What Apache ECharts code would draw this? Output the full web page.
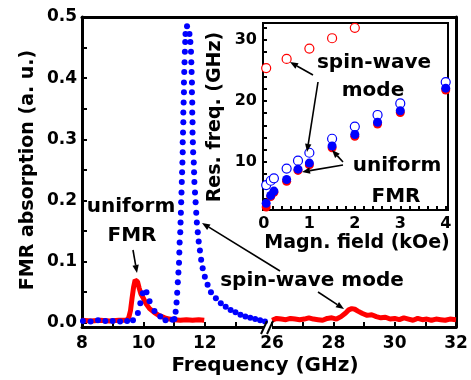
<!DOCTYPE html>
<html>
<head>
<meta charset="utf-8">
<script src="https://cdn.jsdelivr.net/npm/echarts@6/dist/echarts.min.js"></script>
<style>
html, body { margin: 0; padding: 0; background: #fff; }
#chart { width: 471px; height: 380px; }
</style>
</head>
<body>
<div id="chart"></div>
<script>
// main panel: blue dots (spin-wave spectrum)
const blueFreq = [8.03, 8.28, 8.52, 8.76, 9.0, 9.24, 9.47, 9.66,
  9.82, 9.9, 9.98, 10.1, 10.2, 10.36, 10.55, 10.72, 10.95,
  11.01, 11.05, 11.08, 11.1, 11.12, 11.14, 11.16, 11.17, 11.18, 11.2, 11.21, 11.22, 11.23, 11.24, 11.25, 11.26, 11.27,
  11.28, 11.28, 11.29, 11.3, 11.3, 11.31, 11.32, 11.32, 11.33, 11.34, 11.35, 11.36, 11.37, 11.42,
  11.5, 11.53, 11.55, 11.56, 11.57, 11.58, 11.58, 11.59, 11.59, 11.6, 11.6, 11.61, 11.62, 11.64, 11.65, 11.66, 11.68,
  11.7, 11.72, 11.74, 11.77, 11.8, 11.84, 11.88, 11.93, 12.0, 12.09, 12.2, 12.36, 12.52, 12.68, 12.84, 13.0, 13.16,
  13.32, 13.48, 13.64, 13.8, 13.96];
const blueAbs = [0.003, 0.002, 0.004, 0.003, 0.003, 0.002, 0.003, 0.004,
  0.016, 0.032, 0.048, 0.05, 0.035, 0.019, 0.01, 0.004, 0.005,
  0.006, 0.018, 0.033, 0.049, 0.066, 0.082, 0.098, 0.115, 0.131, 0.148, 0.164, 0.18, 0.197, 0.213, 0.23, 0.246, 0.262,
  0.279, 0.295, 0.311, 0.328, 0.344, 0.36, 0.377, 0.393, 0.41, 0.426, 0.443, 0.459, 0.472, 0.485,
  0.472, 0.459, 0.443, 0.426, 0.41, 0.393, 0.377, 0.36, 0.344, 0.328, 0.311, 0.295, 0.279, 0.262, 0.246, 0.23, 0.213,
  0.197, 0.18, 0.164, 0.148, 0.133, 0.118, 0.103, 0.089, 0.075, 0.062, 0.05, 0.04, 0.032, 0.026, 0.021, 0.017, 0.013,
  0.01, 0.008, 0.006, 0.004, 0.002];

// main panel: red line (uniform FMR), low band
const redFreqLow = [8.0, 8.3, 8.6, 8.9, 9.2, 9.45, 9.52, 9.58, 9.63, 9.68, 9.73, 9.77, 9.81, 9.86, 9.92,
  10.0, 10.1, 10.2, 10.35, 10.5, 10.7, 10.85, 11.0, 11.2, 11.4, 11.6, 11.8, 11.98];
const redAbsLow = [0.004, 0.003, 0.004, 0.003, 0.004, 0.004, 0.008, 0.02, 0.04, 0.058, 0.07, 0.072, 0.067, 0.057, 0.047,
  0.04, 0.03, 0.023, 0.017, 0.012, 0.008, 0.006, 0.005, 0.004, 0.005, 0.004, 0.005, 0.004];

// main panel: red line, high band (spin-wave mode)
const redFreqHigh = [26.0, 26.15, 26.3, 26.45, 26.6, 26.75, 26.9, 27.05, 27.2, 27.35, 27.5, 27.65, 27.8, 27.95,
  28.1, 28.25, 28.4, 28.5, 28.6, 28.7, 28.8, 28.95, 29.1, 29.25, 29.4, 29.55, 29.7, 29.85, 30.0, 30.15, 30.3,
  30.45, 30.6, 30.75, 30.9, 31.05, 31.2, 31.35, 31.5, 31.65, 31.8, 32.0];
const redAbsHigh = [0.004, 0.007, 0.006, 0.005, 0.007, 0.006, 0.005, 0.006, 0.008, 0.006, 0.005, 0.004, 0.007, 0.008,
  0.006, 0.01, 0.016, 0.021, 0.023, 0.022, 0.019, 0.015, 0.012, 0.013, 0.01, 0.008, 0.009, 0.006, 0.007, 0.005, 0.008,
  0.006, 0.004, 0.007, 0.005, 0.006, 0.004, 0.006, 0.005, 0.004, 0.006, 0.005];

const yLabels = [0, 0.1, 0.2, 0.3, 0.4, 0.5];
const yTickVals = [0, 0.05, 0.1, 0.15, 0.2, 0.25, 0.3, 0.35, 0.4, 0.45, 0.5];
const xLabelsLow = [8, 10, 12];
const xTicksLow = [8, 9, 10, 11, 12, 13];
const xLabelsHigh = [26, 28, 30, 32];
const xTicksHigh = [26, 27, 28, 29, 30, 31, 32];

// inset: resonance frequency vs field
const field = [0.05, 0.15, 0.22, 0.5, 0.75, 1, 1.5, 2, 2.5, 3, 4];
const redFilled = [2.6, 4.3, 5.0, 6.8, 8.6, 9.5, 12.3, 14.2, 16.2, 18.1, 21.8];
const blueFilled = [3.2, 4.5, 5.2, 7.1, 8.8, 9.8, 12.6, 14.5, 16.5, 18.4, 22.1];
const blueOpen = [6.2, 6.9, 7.3, 8.9, 10.2, 11.5, 13.8, 15.8, 17.7, 19.6, 23.1];
const swField = [0.05, 0.5, 1, 1.5, 2];
const redOpen = [25.4, 26.9, 28.6, 30.3, 32.0];
const insetXLabels = [0, 1, 2, 3, 4];
const insetXTicks = [0, 0.2, 0.4, 0.6, 0.8, 1, 1.2, 1.4, 1.6, 1.8, 2, 2.2, 2.4, 2.6, 2.8, 3, 3.2, 3.4, 3.6, 3.8, 4];
const insetYLabels = [10, 20, 30];
const insetYTicks = [4, 6, 8, 10, 12, 14, 16, 18, 20, 22, 24, 26, 28, 30, 32];

const FONT = 'DejaVu Sans';
const zip = (a, b) => a.map((v, i) => [v, b[i]]);

const lbl = (size, margin) => ({ color: '#000', fontFamily: FONT, fontWeight: 'bold', fontSize: size, margin: margin });
const line = w => ({ show: true, onZero: false, lineStyle: { color: '#000', width: w } });
const tick = (vals, len) => ({ show: true, inside: true, length: len, customValues: vals, lineStyle: { color: '#000', width: 2 } });
const frameAxis = (grid, pos, min, max, w) => ({
  gridIndex: grid, type: 'value', position: pos, min: min, max: max,
  axisLine: line(w), axisTick: { show: false }, axisLabel: { show: false }, splitLine: { show: false }
});

function text(str, x, y, size, rot) {
  return {
    type: 'text', x: x, y: y, rotation: rot || 0, z: 10,
    style: {
      text: str, fill: '#000', font: 'bold ' + size + 'px "' + FONT + '"',
      align: 'center', verticalAlign: 'middle', textAlign: 'center', textVerticalAlign: 'middle'
    }
  };
}
function arrow(x1, y1, x2, y2) {
  const a = Math.atan2(y2 - y1, x2 - x1);
  const L = 8, W = 3.2;
  const bx = x2 - L * Math.cos(a), by = y2 - L * Math.sin(a);
  const nx = -Math.sin(a) * W, ny = Math.cos(a) * W;
  return [
    { type: 'line', z: 10, shape: { x1: x1, y1: y1, x2: bx, y2: by }, style: { stroke: '#000', lineWidth: 1.6 } },
    { type: 'polygon', z: 10, shape: { points: [[x2, y2], [bx + nx, by + ny], [bx - nx, by - ny]] }, style: { fill: '#000' } }
  ];
}

const option = {
  animation: false,
  backgroundColor: '#fff',
  grid: [
    { left: 82, top: 17, width: 187, height: 310 },
    { left: 269, top: 17, width: 187, height: 310 },
    { left: 263, top: 23, width: 185, height: 187, show: true, borderColor: '#000', borderWidth: 2 }
  ],
  xAxis: [
    {
      gridIndex: 0, type: 'value', min: 8, max: 14.09,
      axisLine: line(3), axisTick: tick(xTicksLow, 5),
      axisLabel: Object.assign(lbl(17, 8), { customValues: xLabelsLow }),
      splitLine: { show: false }
    },
    frameAxis(0, 'top', 8, 14.09, 3),
    {
      gridIndex: 1, type: 'value', min: 25.9, max: 32,
      axisLine: line(3), axisTick: tick(xTicksHigh, 5),
      axisLabel: Object.assign(lbl(17, 8), { customValues: xLabelsHigh }),
      splitLine: { show: false }
    },
    frameAxis(1, 'top', 25.9, 32, 3),
    {
      gridIndex: 2, type: 'value', min: -0.02, max: 4.05,
      axisLine: line(2), axisTick: tick(insetXTicks, 4),
      axisLabel: Object.assign(lbl(16, 6), { customValues: insetXLabels }),
      splitLine: { show: false }
    }
  ],
  yAxis: [
    {
      gridIndex: 0, type: 'value', min: -0.007, max: 0.5,
      axisLine: line(3), axisTick: tick(yTickVals, 5),
      axisLabel: Object.assign(lbl(17, 5), { customValues: yLabels, formatter: v => v.toFixed(1) }),
      splitLine: { show: false }
    },
    frameAxis(1, 'right', -0.007, 0.5, 3),
    {
      gridIndex: 2, type: 'value', min: 2.1, max: 32.8,
      axisLine: line(2), axisTick: tick(insetYTicks, 4),
      axisLabel: Object.assign(lbl(16, 6), { customValues: insetYLabels }),
      splitLine: { show: false }
    }
  ],
  series: [
    {
      type: 'line', xAxisIndex: 0, yAxisIndex: 0, data: zip(redFreqLow, redAbsLow),
      showSymbol: false, lineStyle: { color: '#ff0000', width: 5 }, z: 2
    },
    {
      type: 'line', xAxisIndex: 2, yAxisIndex: 1, data: zip(redFreqHigh, redAbsHigh),
      showSymbol: false, lineStyle: { color: '#ff0000', width: 5 }, z: 2
    },
    {
      type: 'scatter', xAxisIndex: 0, yAxisIndex: 0, data: zip(blueFreq, blueAbs),
      symbolSize: 6, itemStyle: { color: '#0000ff', opacity: 1 }, z: 3
    },
    {
      type: 'scatter', xAxisIndex: 4, yAxisIndex: 2, data: zip(swField, redOpen),
      symbolSize: 9, itemStyle: { color: '#fff', borderColor: '#ff0000', borderWidth: 1.2, opacity: 1 }
    },
    {
      type: 'scatter', xAxisIndex: 4, yAxisIndex: 2, data: zip(field, blueOpen),
      symbolSize: 9, itemStyle: { color: '#fff', borderColor: '#0000ff', borderWidth: 1.2, opacity: 1 }
    },
    {
      type: 'scatter', xAxisIndex: 4, yAxisIndex: 2, data: zip(field, redFilled),
      symbolSize: 9, itemStyle: { color: '#ff0000', opacity: 1 }
    },
    {
      type: 'scatter', xAxisIndex: 4, yAxisIndex: 2, data: zip(field, blueFilled),
      symbolSize: 9, itemStyle: { color: '#0000ff', opacity: 1 }
    }
  ],
  graphic: [
    text('FMR absorption (a. u.)', 28, 170, 19, Math.PI / 2),
    text('Frequency (GHz)', 265, 366, 20),
    text('Res. freq. (GHz)', 215, 117, 19, Math.PI / 2),
    text('Magn. field (kOe)', 357, 243, 19),
    text('uniform', 131, 207, 20),
    text('FMR', 132, 236, 20),
    text('spin-wave mode', 312, 281, 20),
    text('spin-wave', 374, 63, 20),
    text('mode', 373, 91, 20),
    text('uniform', 397, 166, 20),
    text('FMR', 396, 197, 20),
    ...arrow(133, 250, 137, 273),
    ...arrow(280, 271, 202, 223),
    ...arrow(318, 292, 344, 309),
    ...arrow(313, 75, 290, 62),
    ...arrow(318, 82, 307, 152),
    ...arrow(343, 165, 302, 172),
    ...arrow(343, 162, 332, 150),
    // axis break marks
    { type: 'rect', z: 11, shape: { x: 264, y: 324, width: 8, height: 6 }, style: { fill: '#fff' } },
    { type: 'line', z: 12, shape: { x1: 261, y1: 334, x2: 267, y2: 321 }, style: { stroke: '#000', lineWidth: 2 } },
    { type: 'line', z: 12, shape: { x1: 267, y1: 334, x2: 273, y2: 321 }, style: { stroke: '#000', lineWidth: 2 } }
  ]
};

const chart = echarts.init(document.getElementById('chart'));
chart.setOption(option);
</script>
</body>
</html>
